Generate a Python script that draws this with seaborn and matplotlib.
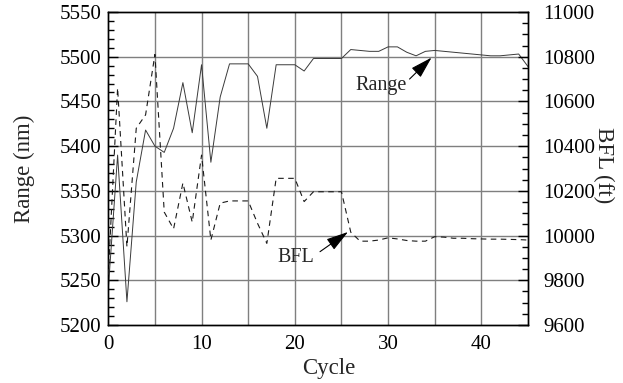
import numpy as np
import pandas as pd
import matplotlib
matplotlib.use("Agg")
import matplotlib.pyplot as plt
from matplotlib import font_manager
from matplotlib.ticker import MultipleLocator, FuncFormatter
import seaborn as sns

# ---- data ----
cycle = list(range(46))
range_nm = [5240, 5390, 5226, 5360, 5418, 5400, 5393, 5420, 5471, 5415,
            5491, 5382, 5455, 5492, 5492, 5492, 5478, 5420, 5491, 5491,
            5491, 5484, 5498, 5498, 5498, 5498, 5508, 5507, 5506, 5506,
            5511, 5511, 5505, 5501, 5506, 5507, 5506, 5505, 5504, 5503,
            5502, 5501, 5501, 5502, 5503, 5489]
bfl_ft = [9825, 10660, 9950, 10480, 10540, 10810, 10105, 10030, 10235, 10060,
          10360, 9980, 10145, 10155, 10155, 10155, 10055, 9965, 10256, 10256,
          10256, 10152, 10196, 10196, 10196, 10196, 10015, 9975, 9975, 9980,
          9990, 9985, 9978, 9975, 9975, 9995, 9993, 9988, 9988, 9986,
          9985, 9984, 9984, 9983, 9982, 9980]
x_ticks = [0, 5, 10, 15, 20, 25, 30, 35, 40, 45]
left_ticks = [5200, 5250, 5300, 5350, 5400, 5450, 5500, 5550]
right_ticks = [9600, 9800, 10000, 10200, 10400, 10600, 10800, 11000]

df = pd.DataFrame({"Cycle": cycle, "Range": range_nm, "BFL": bfl_ft})

sns.set_theme(style="white")

# pick a Times-like serif that is actually installed
avail = {f.name for f in font_manager.fontManager.ttflist}
serif = None
for cand in ["Liberation Serif", "Times New Roman", "Tinos", "Nimbus Roman",
             "TeX Gyre Termes", "FreeSerif", "DejaVu Serif"]:
    if cand in avail:
        serif = cand
        break
plt.rcParams["font.family"] = [serif or "serif", "DejaVu Serif"]
plt.rcParams["axes.edgecolor"] = "black"
plt.rcParams["axes.linewidth"] = 1.0

fig = plt.figure(figsize=(6.23, 3.83), dpi=100)
ax = fig.add_axes([0.1738, 0.1514, 0.8475 - 0.1738, 0.9687 - 0.1514])
ax2 = ax.twinx()

# grid (on the main axis, behind lines)
ax.set_axisbelow(True)
for xv in x_ticks[1:-1]:
    ax.axvline(xv, color="#7f7f7f", lw=1.0, zorder=0)
for yv in left_ticks[1:-1]:
    ax.axhline(yv, color="#7f7f7f", lw=1.0, zorder=0)

sns.lineplot(data=df, x="Cycle", y="Range", ax=ax, color="#3a3a3a", lw=0.7, zorder=3)
sns.lineplot(data=df, x="Cycle", y="BFL", ax=ax2, color="#1a1a1a", lw=0.8,
             linestyle=(0, (5, 4)), zorder=3)

ax.set_xlim(0, 45)
ax.set_ylim(5200, 5550)
ax2.set_ylim(9600, 11000)

ax.set_xticks(x_ticks)
ax.xaxis.set_major_formatter(FuncFormatter(lambda v, p: f"{int(v)}" if int(v) % 10 == 0 and v < 45 else ""))
ax.xaxis.set_minor_locator(MultipleLocator(1))
ax.set_yticks(left_ticks)
ax.yaxis.set_minor_locator(MultipleLocator(10))
ax2.set_yticks(right_ticks)
ax2.yaxis.set_minor_locator(MultipleLocator(50))

ax.tick_params(axis="both", which="both", direction="in", colors="black", labelsize=15)
ax.tick_params(axis="x", which="major", length=7, width=1, pad=7, top=False)
ax.tick_params(axis="x", which="minor", length=4, width=1, top=False)
ax.tick_params(axis="y", which="major", length=7, width=1, pad=5, right=False)
ax.tick_params(axis="y", which="minor", length=4, width=1, right=False)
ax2.tick_params(axis="y", which="both", direction="in", colors="black", labelsize=15)
ax2.tick_params(axis="y", which="major", length=7, width=1, pad=11)
ax2.tick_params(axis="y", which="minor", length=4, width=1)

for sp in list(ax.spines.values()) + list(ax2.spines.values()):
    sp.set_color("black")
    sp.set_linewidth(1.0)

ax.set_xlabel("Cycle", fontsize=16.5)
ax.set_ylabel("Range (nm)", fontsize=16.5)
ax2.set_ylabel("BFL (ft)", fontsize=16.5, rotation=270)
ax.xaxis.label.set_va("center")
ax.xaxis.set_label_coords(0.525, -0.14)
ax.yaxis.label.set_va("center")
ax.yaxis.set_label_coords(-0.2, 0.5)
ax2.yaxis.label.set_va("center")
ax2.yaxis.set_label_coords(1.18, 0.51)

arrow = dict(arrowstyle="-|>,head_length=0.68,head_width=0.2", mutation_scale=20,
             color="black", lw=0.8, shrinkA=0, shrinkB=0)
ax.text(29.2, 5468, "Range", fontsize=14.5, ha="center", va="center", zorder=5)
ax.annotate("", xy=(34.66, 5499), xytext=(32.3, 5475), arrowprops=arrow, zorder=5)
ax.text(20.1, 5275, "BFL", fontsize=14.5, ha="center", va="center", zorder=5)
ax.annotate("", xy=(25.7, 5304), xytext=(22.7, 5282), arrowprops=arrow, zorder=5)

fig.savefig("out.png", dpi=100)
